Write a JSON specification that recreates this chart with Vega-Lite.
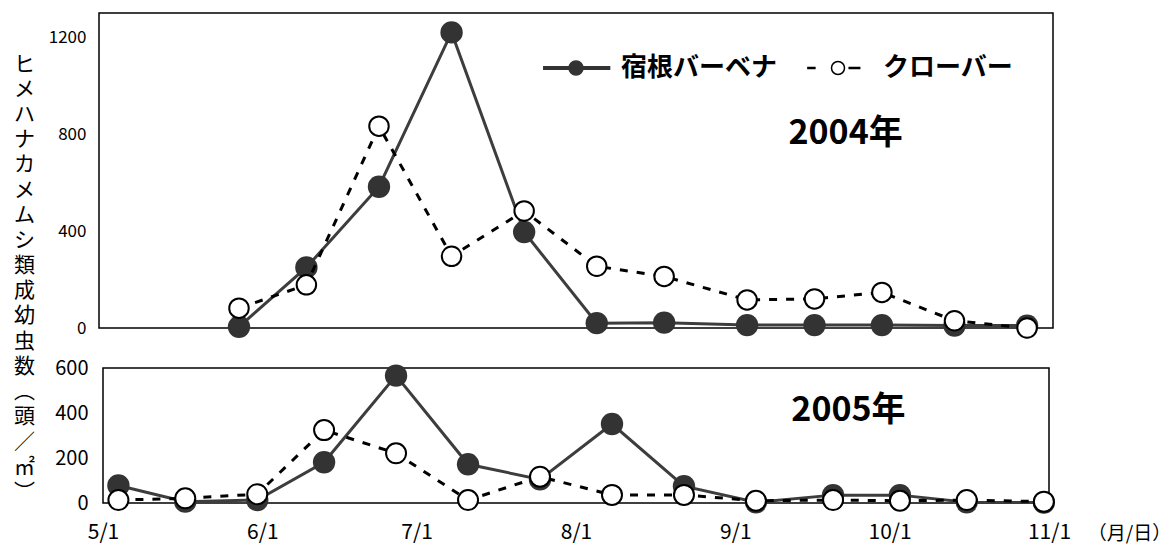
{
  "$schema": "https://vega.github.io/schema/vega-lite/v6.json",
  "padding": {"left": 12, "top": 12, "right": 5, "bottom": 5},
  "background": "white",
  "bounds": "flush",
  "center": true,
  "spacing": 40,
  "config": {
    "font": "Noto Sans CJK JP",
    "view": {"stroke": "#000000", "strokeWidth": 1.5},
    "axis": {"grid": false, "ticks": false, "domain": false, "labelColor": "#000000", "titleColor": "#000000", "labelFont": "Noto Sans CJK JP", "titleFont": "Noto Sans CJK JP"}
  },
  "datasets": {
    "y2004": [
      {"date": "2004-05-28", "series": "宿根バーベナ", "count": 5},
      {"date": "2004-06-10", "series": "宿根バーベナ", "count": 250},
      {"date": "2004-06-24", "series": "宿根バーベナ", "count": 583},
      {"date": "2004-07-08", "series": "宿根バーベナ", "count": 1220},
      {"date": "2004-07-22", "series": "宿根バーベナ", "count": 396},
      {"date": "2004-08-05", "series": "宿根バーベナ", "count": 20},
      {"date": "2004-08-18", "series": "宿根バーベナ", "count": 22},
      {"date": "2004-09-03", "series": "宿根バーベナ", "count": 12},
      {"date": "2004-09-16", "series": "宿根バーベナ", "count": 12},
      {"date": "2004-09-29", "series": "宿根バーベナ", "count": 12},
      {"date": "2004-10-13", "series": "宿根バーベナ", "count": 10},
      {"date": "2004-10-27", "series": "宿根バーベナ", "count": 10},
      {"date": "2004-05-28", "series": "クローバー", "count": 82},
      {"date": "2004-06-10", "series": "クローバー", "count": 178},
      {"date": "2004-06-24", "series": "クローバー", "count": 833},
      {"date": "2004-07-08", "series": "クローバー", "count": 296},
      {"date": "2004-07-22", "series": "クローバー", "count": 483},
      {"date": "2004-08-05", "series": "クローバー", "count": 255},
      {"date": "2004-08-18", "series": "クローバー", "count": 213},
      {"date": "2004-09-03", "series": "クローバー", "count": 116},
      {"date": "2004-09-16", "series": "クローバー", "count": 120},
      {"date": "2004-09-29", "series": "クローバー", "count": 147},
      {"date": "2004-10-13", "series": "クローバー", "count": 30},
      {"date": "2004-10-27", "series": "クローバー", "count": 0}
    ],
    "y2005": [
      {"date": "2005-05-04", "series": "宿根バーベナ", "count": 78},
      {"date": "2005-05-17", "series": "宿根バーベナ", "count": 6},
      {"date": "2005-05-31", "series": "宿根バーベナ", "count": 13},
      {"date": "2005-06-13", "series": "宿根バーベナ", "count": 181},
      {"date": "2005-06-27", "series": "宿根バーベナ", "count": 566},
      {"date": "2005-07-11", "series": "宿根バーベナ", "count": 172},
      {"date": "2005-07-25", "series": "宿根バーベナ", "count": 105},
      {"date": "2005-08-08", "series": "宿根バーベナ", "count": 351},
      {"date": "2005-08-22", "series": "宿根バーベナ", "count": 75},
      {"date": "2005-09-05", "series": "宿根バーベナ", "count": 3},
      {"date": "2005-09-20", "series": "宿根バーベナ", "count": 35},
      {"date": "2005-10-03", "series": "宿根バーベナ", "count": 35},
      {"date": "2005-10-16", "series": "宿根バーベナ", "count": 3},
      {"date": "2005-10-31", "series": "宿根バーベナ", "count": 2},
      {"date": "2005-05-04", "series": "クローバー", "count": 13},
      {"date": "2005-05-17", "series": "クローバー", "count": 21},
      {"date": "2005-05-31", "series": "クローバー", "count": 39},
      {"date": "2005-06-13", "series": "クローバー", "count": 324},
      {"date": "2005-06-27", "series": "クローバー", "count": 221},
      {"date": "2005-07-11", "series": "クローバー", "count": 13},
      {"date": "2005-07-25", "series": "クローバー", "count": 117},
      {"date": "2005-08-08", "series": "クローバー", "count": 36},
      {"date": "2005-08-22", "series": "クローバー", "count": 36},
      {"date": "2005-09-05", "series": "クローバー", "count": 10},
      {"date": "2005-09-20", "series": "クローバー", "count": 13},
      {"date": "2005-10-03", "series": "クローバー", "count": 10},
      {"date": "2005-10-16", "series": "クローバー", "count": 13},
      {"date": "2005-10-31", "series": "クローバー", "count": 6}
    ],
    "ann2004": [{"date": "2004-09-22", "count": 800, "label": "2004年"}],
    "ann2005": [{"date": "2005-09-23", "count": 410, "label": "2005年"}]
  },
  "vconcat": [
    {
      "width": 954,
      "height": 315,
      "data": {"name": "y2004"},
      "encoding": {
        "x": {"field": "date", "type": "temporal", "scale": {"type": "utc", "domain": [{"year": 2004, "month": 5, "date": 1, "utc": true}, {"year": 2004, "month": 11, "date": 1, "utc": true}]}, "axis": null},
        "y": {"field": "count", "type": "quantitative", "scale": {"domain": [0, 1300]}, "axis": {"values": [0, 400, 800, 1200], "format": "d", "labelFontSize": 17, "labelPadding": 13,
          "title": ["ヒ", "メ", "ハ", "ナ", "カ", "メ", "ム", "シ", "類", "成", "幼", "虫", "数", "︵", "頭", "／", "㎡", "︶"],
          "titleAngle": 0, "titleAlign": "center", "titleBaseline": "top", "titleX": -75, "titleY": 40, "titleFontSize": 21, "titleLineHeight": 25.2, "titleFontWeight": "normal"}}
      },
      "layer": [
        {"transform": [{"filter": "datum.series === '宿根バーベナ'"}], "mark": {"type": "line", "color": "#3d3d3d", "strokeWidth": 3}},
        {"transform": [{"filter": "datum.series === '宿根バーベナ'"}], "mark": {"type": "point", "shape": "circle", "filled": true, "fill": "#333333", "strokeWidth": 0, "size": 500, "opacity": 1}},
        {"transform": [{"filter": "datum.series === 'クローバー'"}], "mark": {"type": "line", "color": "#000000", "strokeWidth": 3, "strokeDash": [8, 9]}},
        {"transform": [{"filter": "datum.series === 'クローバー'"}], "mark": {"type": "point", "shape": "circle", "filled": true, "fill": "#ffffff", "stroke": "#000000", "strokeWidth": 2, "size": 380, "opacity": 1}},
        {
          "data": {"name": "ann2004"},
          "mark": {"type": "text", "fontSize": 34, "fontWeight": "bold", "align": "center", "baseline": "middle", "fill": "#000000"},
          "encoding": {
            "text": {"field": "label", "type": "nominal"}
          }
        },
        {
          "transform": [{"filter": "false"}],
          "mark": {"type": "point", "filled": true, "opacity": 1, "size": 196, "strokeWidth": 1.5},
          "encoding": {
            "shape": {"field": "series", "type": "nominal", "scale": {"domain": ["宿根バーベナ", "クローバー"], "range": ["M-4.6,-0.18H4.8V0.18H-4.6Z M1,0A1,1,0,1,1,-1,0A1,1,0,1,1,1,0Z", "M-4.3,-0.07H-3.3V0.07H-4.3Z M1.6,-0.07H3.1V0.07H1.6Z M0.93,0A0.93,0.93,0,1,1,-0.93,0A0.93,0.93,0,1,1,0.93,0Z"]},
              "legend": {"orient": "none", "legendX": 464, "legendY": 42, "direction": "horizontal", "title": null, "labelFontSize": 26, "labelFontWeight": "bold", "labelOffset": 32, "columnPadding": 26, "symbolSize": 196, "symbolStrokeWidth": 1.5, "symbolOpacity": 1, "padding": 0, "labelColor": "#000000", "labelFont": "Noto Sans CJK JP", "labelLimit": 0}},
            "fill": {"field": "series", "type": "nominal", "scale": {"domain": ["宿根バーベナ", "クローバー"], "range": ["#333333", "#ffffff"]},
              "legend": {"orient": "none", "legendX": 464, "legendY": 42, "direction": "horizontal", "title": null, "labelFontSize": 26, "labelFontWeight": "bold", "labelOffset": 32, "columnPadding": 26, "symbolSize": 196, "symbolStrokeWidth": 1.5, "symbolOpacity": 1, "padding": 0, "labelColor": "#000000", "labelFont": "Noto Sans CJK JP", "labelLimit": 0}},
            "stroke": {"field": "series", "type": "nominal", "scale": {"domain": ["宿根バーベナ", "クローバー"], "range": ["#333333", "#000000"]},
              "legend": {"orient": "none", "legendX": 464, "legendY": 42, "direction": "horizontal", "title": null, "labelFontSize": 26, "labelFontWeight": "bold", "labelOffset": 32, "columnPadding": 26, "symbolSize": 196, "symbolStrokeWidth": 1.5, "symbolOpacity": 1, "padding": 0, "labelColor": "#000000", "labelFont": "Noto Sans CJK JP", "labelLimit": 0}}
          }
        }
      ]
    },
    {
      "width": 946,
      "height": 135,
      "data": {"name": "y2005"},
      "encoding": {
        "x": {"field": "date", "type": "temporal", "scale": {"type": "utc", "domain": [{"year": 2005, "month": 5, "date": 1, "utc": true}, {"year": 2005, "month": 11, "date": 1, "utc": true}]},
          "axis": {"values": [
            {"year": 2005, "month": 5, "date": 1, "utc": true},
            {"year": 2005, "month": 6, "date": 1, "utc": true},
            {"year": 2005, "month": 7, "date": 1, "utc": true},
            {"year": 2005, "month": 8, "date": 1, "utc": true},
            {"year": 2005, "month": 9, "date": 1, "utc": true},
            {"year": 2005, "month": 10, "date": 1, "utc": true},
            {"year": 2005, "month": 11, "date": 1, "utc": true}],
            "format": "%-m/%-d", "labelFontSize": 21, "labelPadding": 18, "labelOverlap": false, "labelFlush": false,
            "title": "（月/日）", "titleX": 1026, "titleY": 30, "titleAlign": "center", "titleBaseline": "middle", "titleFontSize": 19, "titleFontWeight": "normal"}},
        "y": {"field": "count", "type": "quantitative", "scale": {"domain": [0, 600]}, "axis": {"values": [0, 200, 400, 600], "labelFontSize": 20, "labelPadding": 15, "title": null}}
      },
      "layer": [
        {"transform": [{"filter": "datum.series === '宿根バーベナ'"}], "mark": {"type": "line", "color": "#3d3d3d", "strokeWidth": 3}},
        {"transform": [{"filter": "datum.series === '宿根バーベナ'"}], "mark": {"type": "point", "shape": "circle", "filled": true, "fill": "#333333", "strokeWidth": 0, "size": 500, "opacity": 1}},
        {"transform": [{"filter": "datum.series === 'クローバー'"}], "mark": {"type": "line", "color": "#000000", "strokeWidth": 3, "strokeDash": [8, 9]}},
        {"transform": [{"filter": "datum.series === 'クローバー'"}], "mark": {"type": "point", "shape": "circle", "filled": true, "fill": "#ffffff", "stroke": "#000000", "strokeWidth": 2, "size": 400, "opacity": 1}},
        {
          "data": {"name": "ann2005"},
          "mark": {"type": "text", "fontSize": 34, "fontWeight": "bold", "align": "center", "baseline": "middle", "fill": "#000000"},
          "encoding": {
            "text": {"field": "label", "type": "nominal"}
          }
        }
      ]
    }
  ]
}
